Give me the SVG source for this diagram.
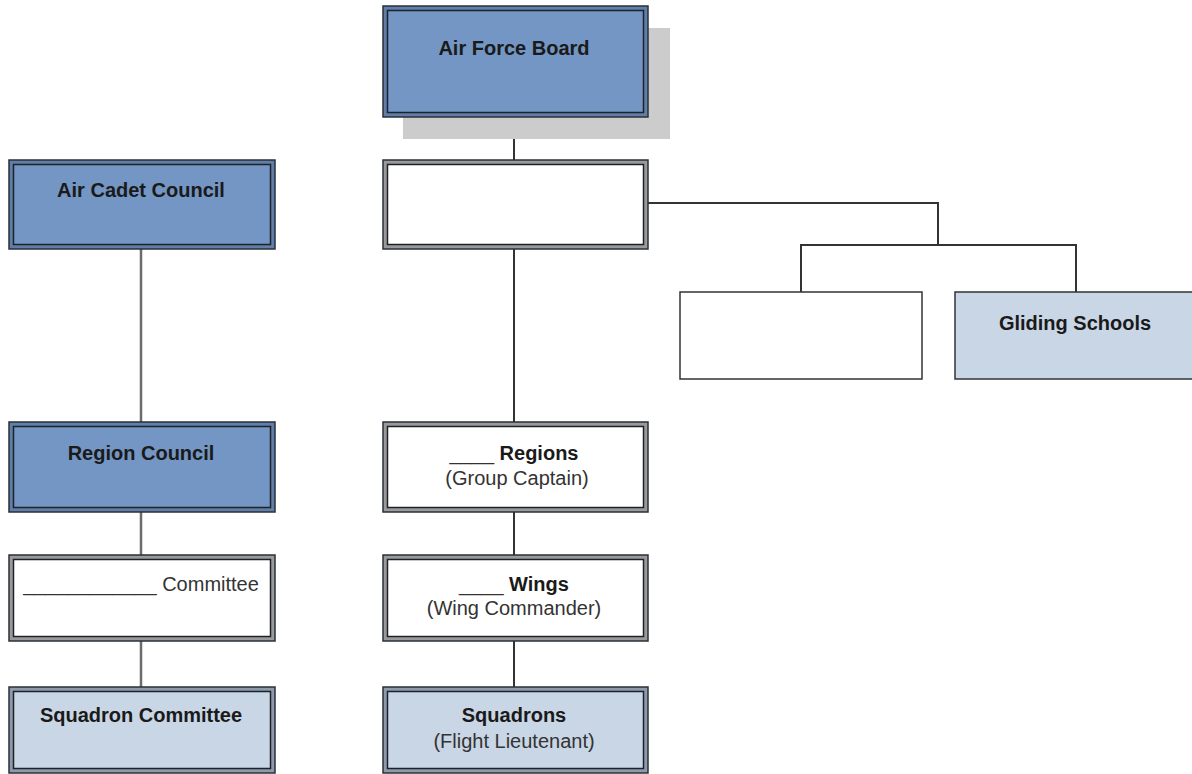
<svg xmlns="http://www.w3.org/2000/svg" width="1192" height="774" viewBox="0 0 1192 774">
<style>
  .t { font-family: "Liberation Sans", Arial, sans-serif; font-size: 20px; fill: #1a1a1a; text-anchor: middle; }
  .b { font-weight: bold; }
  .r { fill: #333; }
  .outer { stroke: #2a2f38; stroke-width: 1.5; }
  .inner { stroke: #1e2228; stroke-width: 1.5; }
  .dark .outer { fill: #5f7ea8; }
  .dark .inner { fill: #7396c4; }
  .light .outer { fill: #8d9aab; }
  .light .inner { fill: #c9d6e6; }
  .white .outer { fill: #9a9a9a; }
  .white .inner { fill: #ffffff; }
  .single { stroke: #333; stroke-width: 1.5; }
  .conn-l { stroke: #6b6b6b; stroke-width: 2.5; fill: none; }
  .conn-m { stroke: #333; stroke-width: 2; fill: none; }
</style>
<rect width="1192" height="774" fill="#ffffff"/>

<g id="connectors">
  <line class="conn-l" x1="141" y1="249" x2="141" y2="422"/>
  <line class="conn-l" x1="141" y1="512" x2="141" y2="555"/>
  <line class="conn-l" x1="141" y1="641" x2="141" y2="687"/>
  <line class="conn-m" x1="514" y1="117" x2="514" y2="160"/>
  <line class="conn-m" x1="514" y1="249" x2="514" y2="422"/>
  <line class="conn-m" x1="514" y1="512" x2="514" y2="555"/>
  <line class="conn-m" x1="514" y1="641" x2="514" y2="687"/>
  <polyline class="conn-m" points="648,203 938,203 938,245"/>
  <polyline class="conn-m" points="801,292 801,245 1076,245 1076,292"/>
</g>

<g id="air-force-board" class="dark">
  <rect x="403" y="28" width="267" height="111" fill="#cccccc"/>
  <rect class="outer" x="383" y="6" width="265" height="111"/>
  <rect class="inner" x="387.5" y="10.5" width="256" height="102"/>
  <text class="t b" x="514" y="55">Air Force Board</text>
</g>

<g id="air-cadet-council" class="dark">
  <rect class="outer" x="9" y="160" width="266" height="89"/>
  <rect class="inner" x="13.5" y="164.5" width="257" height="80"/>
  <text class="t b" x="141" y="197">Air Cadet Council</text>
</g>

<g id="blank-top" class="white">
  <rect class="outer" x="383" y="160" width="265" height="89"/>
  <rect class="inner" x="387.5" y="164.5" width="256" height="80"/>
</g>

<g id="blank-right">
  <rect class="single" x="680" y="292" width="242" height="87" fill="#ffffff"/>
</g>

<g id="gliding-schools">
  <rect class="single" x="955" y="292" width="242" height="87" fill="#c9d6e6"/>
  <text class="t b" x="1075" y="330">Gliding Schools</text>
</g>

<g id="region-council" class="dark">
  <rect class="outer" x="9" y="422" width="266" height="90"/>
  <rect class="inner" x="13.5" y="426.5" width="257" height="81"/>
  <text class="t b" x="141" y="460">Region Council</text>
</g>

<g id="regions" class="white">
  <rect class="outer" x="383" y="422" width="265" height="90"/>
  <rect class="inner" x="387.5" y="426.5" width="256" height="81"/>
  <text class="t" x="514" y="460"><tspan class="r">____ </tspan><tspan class="b">Regions</tspan></text>
  <text class="t r" x="517" y="485">(Group Captain)</text>
</g>

<g id="committee" class="white">
  <rect class="outer" x="9" y="555" width="266" height="86"/>
  <rect class="inner" x="13.5" y="559.5" width="257" height="77"/>
  <text class="t r" x="141" y="591">____________ Committee</text>
</g>

<g id="wings" class="white">
  <rect class="outer" x="383" y="555" width="265" height="86"/>
  <rect class="inner" x="387.5" y="559.5" width="256" height="77"/>
  <text class="t" x="514" y="591"><tspan class="r">____ </tspan><tspan class="b">Wings</tspan></text>
  <text class="t r" x="514" y="615">(Wing Commander)</text>
</g>

<g id="squadron-committee" class="light">
  <rect class="outer" x="9" y="687" width="266" height="86"/>
  <rect class="inner" x="13.5" y="691.5" width="257" height="77"/>
  <text class="t b" x="141" y="722">Squadron Committee</text>
</g>

<g id="squadrons" class="light">
  <rect class="outer" x="383" y="687" width="265" height="86"/>
  <rect class="inner" x="387.5" y="691.5" width="256" height="77"/>
  <text class="t b" x="514" y="722">Squadrons</text>
  <text class="t r" x="514" y="748">(Flight Lieutenant)</text>
</g>
</svg>
